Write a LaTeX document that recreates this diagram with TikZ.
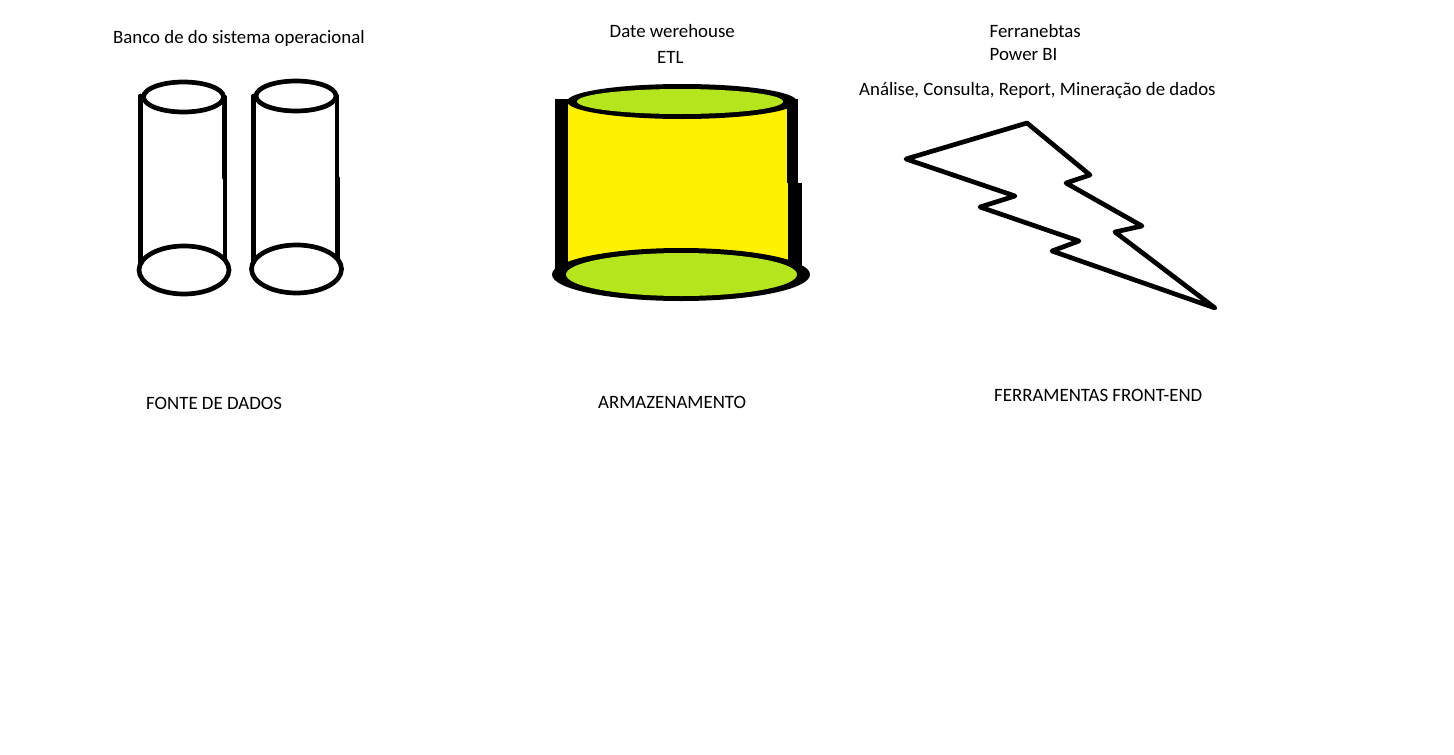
\documentclass[tikz,border=0pt]{standalone}
\usepackage{fontspec}
\setmainfont{Carlito}
\definecolor{paintyellow}{HTML}{FFF200}
\definecolor{paintlime}{HTML}{B5E61D}
\tikzset{
  x=1pt,y=-1pt,
  label text/.style={inner sep=0pt,anchor=base west,font=\fontsize{18.85}{22}\selectfont,text=black},
  thin stroke/.style={draw=black,line width=4.7pt,line join=round,line cap=round},
  solid black/.style={fill=black,draw=none},
}
\begin{document}
\begin{tikzpicture}
\useasboundingbox (0,0) rectangle (1454,755);
\fill[white] (0,0) rectangle (1454,755);
% source cylinders
\draw[thin stroke] (140.5,96) -- (140.5,262);
\draw[thin stroke] (224.5,97) -- (224.5,178) -- (225,178) -- (225,258);
\draw[thin stroke] (183.5,97) ellipse [x radius=40,y radius=15];
\draw[thin stroke] (184,270) ellipse [x radius=45,y radius=24];
\draw[thin stroke] (253.5,96) -- (253.5,262);
\draw[thin stroke] (337,96) -- (337,178) -- (337.5,178) -- (337.5,258);
\draw[thin stroke] (296,96) ellipse [x radius=40,y radius=15];
\draw[thin stroke] (296.5,269) ellipse [x radius=45,y radius=24];
% warehouse cylinder
\fill[paintyellow] (566,101) rectangle (790,275);
\fill[solid black] (555,99) rectangle (568,272);
\fill[solid black] (787,99) rectangle (798,183);
\fill[solid black] (788,183) rectangle (802,268);
\fill[solid black] (682,101.5) ellipse [x radius=115,y radius=17.5];
\fill[paintlime] (680,101.5) ellipse [x radius=103,y radius=12.5];
\fill[solid black] (681,274.5) ellipse [x radius=129,y radius=26.5];
\fill[paintlime] (681.5,274.5) ellipse [x radius=115.5,y radius=21.5];
% lightning bolt
\draw[thin stroke] (1027,123) -- (1090,175) -- (1066,183) -- (1142,226) -- (1115,232) -- (1215,308)
  -- (1052,251) -- (1079,241) -- (980,207) -- (1015,196) -- (906,159) -- cycle;
% labels
\node[label text] (t1) at (113,43) {Banco de do sistema operacional};
\node[label text] (t2) at (609.5,37) {Date werehouse};
\node[label text] (t3) at (657,63) {ETL};
\node[label text] (t4) at (989.5,37) {Ferranebtas};
\node[label text] (t5) at (989.5,60) {Power BI};
\node[label text] (t6) at (859,95) {Análise, Consulta, Report, Mineração de dados};
\node[label text] (t7) at (146,409) {FONTE DE DADOS};
\node[label text] (t8) at (598,408) {ARMAZENAMENTO};
\node[label text] (t9) at (994,401) {FERRAMENTAS FRONT-END};
\end{tikzpicture}
\end{document}
